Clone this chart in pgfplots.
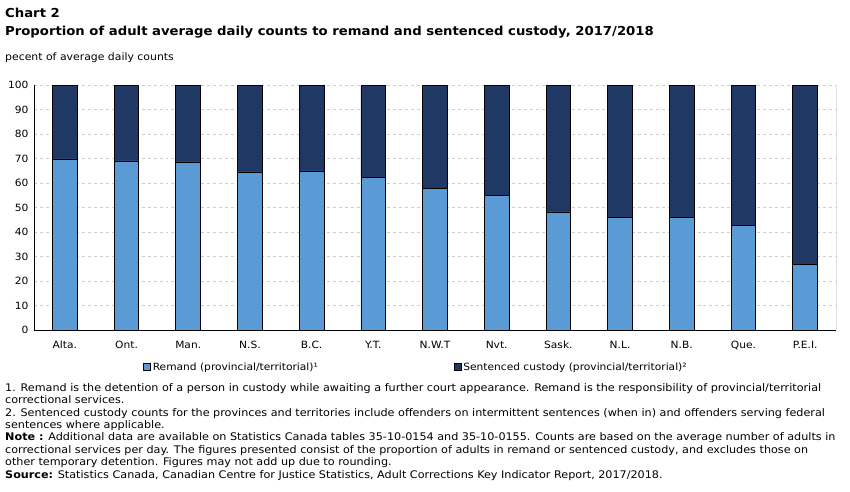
\documentclass[border=0pt]{standalone}
\usepackage{pgfplots}
\usepackage{pgfplotstable}
\pgfplotsset{compat=1.18}
\usepackage{fontspec}
\setmainfont{DejaVu Sans}[FakeStretch=1.07]
\definecolor{remand}{RGB}{91,155,213}
\definecolor{sentenced}{RGB}{32,56,100}
\definecolor{gridgray}{RGB}{205,205,205}

% Share of average daily counts, remand vs sentenced custody, by jurisdiction
\pgfplotstableread{
x label remand sentenced
0  Alta.  69.8 30.2
1  Ont.   69.0 31.0
2  Man.   68.6 31.4
3  N.S.   64.5 35.5
4  B.C.   64.9 35.1
5  Y.T.   62.1 37.9
6  N.W.T  57.6 42.4
7  Nvt.   54.8 45.2
8  Sask.  48.2 51.8
9  N.L.   45.8 54.2
10 N.B.   45.8 54.2
11 Que.   42.5 57.5
12 P.E.I. 26.6 73.4
}\custody

\begin{document}
\begin{tikzpicture}
\useasboundingbox (0bp,0bp) rectangle (850bp,-492bp);
\node[anchor=base west,inner sep=0,font=\bfseries\fontsize{12.4}{14}\selectfont] at (5bp,-17bp) {Chart 2};
\node[anchor=base west,inner sep=0,font=\bfseries\fontsize{12.4}{14}\selectfont] at (5bp,-35bp) {Proportion of adult average daily counts to remand and sentenced custody, 2017/2018};
\node[anchor=base west,inner sep=0,font=\fontsize{10.2}{12}\selectfont] at (5bp,-60bp) {pecent of average daily counts};

\begin{axis}[
  at={(34bp,-330bp)}, anchor=south west,
  scale only axis, width=802bp, height=245bp,
  ybar stacked, bar width=0.4,
  xmin=-0.5, xmax=12.5, ymin=0, ymax=100,
  xtick=data, xticklabels from table={\custody}{label},
  ytick={0,10,...,100},
  axis x line*=bottom, axis y line*=left,
  axis line style={black, line width=1pt},
  major tick length=0pt,
  ymajorgrids, grid style={gridgray, dashed, line width=0.6pt},
  tick label style={font=\fontsize{10}{12}\selectfont},
  /pgf/number format/assume math mode=true,
  xticklabel style={anchor=base, yshift=-18bp},
  yticklabel style={xshift=-2bp},
  legend columns=2,
  legend style={at={(0.136,-0.151)}, anchor=west, draw=none, fill=none,
    font=\fontsize{10}{12}\selectfont, inner sep=0pt,
    /tikz/every even column/.append style={column sep=134bp}},
  legend image code/.code={\draw[#1, draw=black, line width=0.5pt] (0bp,-3.5bp) rectangle (7bp,3.5bp);},
  legend cell align=left,
]
\addplot[fill=remand, draw=black, line width=0.8pt] table[x=x, y=remand] {\custody};
\addplot[fill=sentenced, draw=black, line width=0.8pt] table[x=x, y=sentenced] {\custody};
\legend{Remand (provincial/territorial)¹, Sentenced custody (provincial/territorial)²}
\draw[black, line width=1pt] (rel axis cs:1,0) -- (rel axis cs:1,1);
\end{axis}

\node[anchor=north west, inner sep=0, align=left, font=\fontsize{10.5}{12.5}\selectfont] at (5bp,-383bp) {%
1. Remand is the detention of a person in custody while awaiting a further court appearance. Remand is the responsibility of provincial/territorial\\
correctional services.\\
2. Sentenced custody counts for the provinces and territories include offenders on intermittent sentences (when in) and offenders serving federal\\
sentences where applicable.\\
\textbf{Note :} Additional data are available on Statistics Canada tables 35-10-0154 and 35-10-0155.  Counts are based on the average number of adults in\\
correctional services per day. The figures presented consist of the proportion of adults in remand or sentenced custody, and excludes those on\\
other temporary detention. Figures may not add up due to rounding.\\
\textbf{Source:} Statistics Canada, Canadian Centre for Justice Statistics, Adult Corrections Key Indicator Report, 2017/2018.};
\end{tikzpicture}
\end{document}
